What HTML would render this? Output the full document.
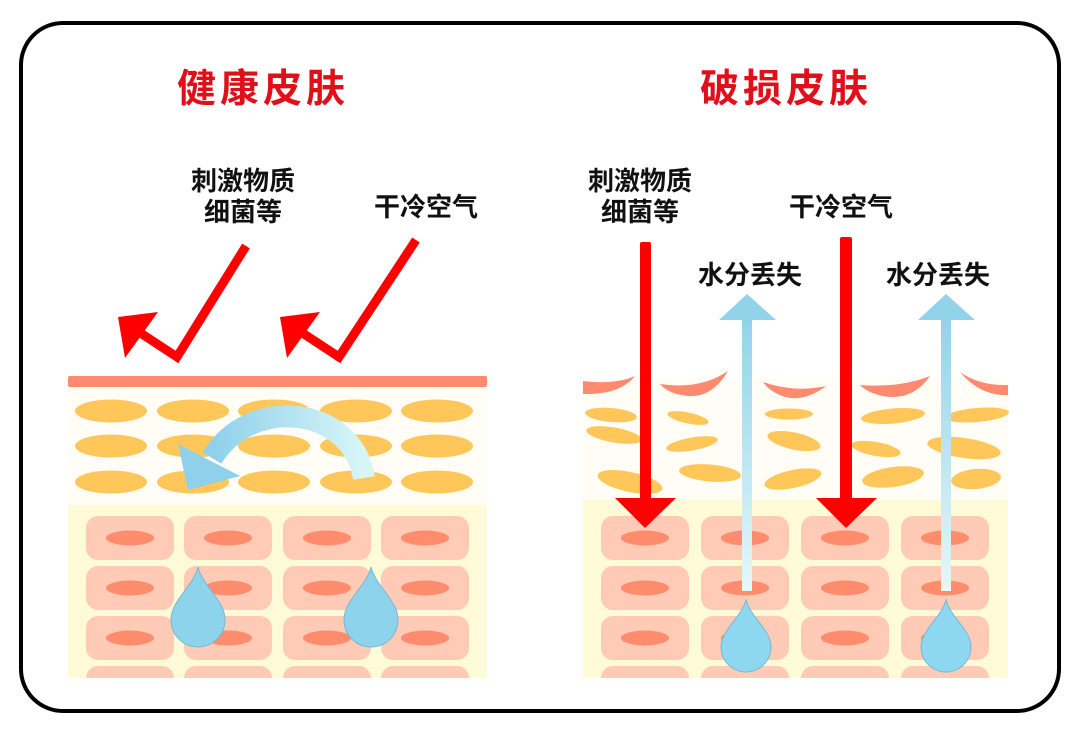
<!DOCTYPE html>
<html><head><meta charset="utf-8"><style>
html,body{margin:0;padding:0;background:#fff;}
svg{display:block;}
text{font-family:"Liberation Sans","Noto Sans CJK SC",sans-serif;font-weight:bold;}
</style></head><body>
<svg width="1080" height="737" viewBox="0 0 1080 737" xmlns="http://www.w3.org/2000/svg">
<defs>
<linearGradient id="ca" x1="0" y1="0" x2="1" y2="0">
<stop offset="0" stop-color="#8fd0ea"/><stop offset="1" stop-color="#d8f6f8"/></linearGradient>
<linearGradient id="bs" x1="0" y1="0" x2="0" y2="1">
<stop offset="0" stop-color="#92d3ea"/><stop offset="1" stop-color="#e6f8f8"/></linearGradient>
<g id="cells">
<rect x="0" y="0" width="88" height="44" rx="12" fill="#ffcbb6"/>
<ellipse cx="44" cy="22" rx="24" ry="7.5" fill="#ff8c6c"/>
</g>
</defs>
<rect width="1080" height="737" fill="#fff"/>
<rect x="21" y="23" width="1038" height="688" rx="42" fill="#fff" stroke="#000" stroke-width="4"/>

<text x="263" y="102" font-size="39" fill="#e0101a" text-anchor="middle" letter-spacing="4">健康皮肤</text>
<text x="786" y="102" font-size="39" fill="#e0101a" text-anchor="middle" letter-spacing="4">破损皮肤</text>

<g font-size="26" fill="#111" text-anchor="middle">
<text x="243" y="190">刺激物质</text>
<text x="243" y="221">细菌等</text>
<text x="426" y="216">干冷空气</text>
<text x="640" y="190">刺激物质</text>
<text x="640" y="221">细菌等</text>
<text x="841" y="216">干冷空气</text>
<text x="750" y="284">水分丢失</text>
<text x="938" y="284">水分丢失</text>
</g>

<!-- LEFT PANEL -->
<rect x="68" y="387" width="419" height="118" fill="#fffdf6"/>
<rect x="68" y="505" width="419" height="173" fill="#fffbd8"/>
<rect x="68" y="376" width="419" height="11" rx="2" fill="#ff8a70"/>
<g fill="#ffc75a">
<ellipse cx="111" cy="411" rx="36" ry="11.5"/><ellipse cx="193" cy="411" rx="36" ry="11.5"/><ellipse cx="274" cy="411" rx="36" ry="11.5"/><ellipse cx="356" cy="411" rx="36" ry="11.5"/><ellipse cx="437" cy="411" rx="36" ry="11.5"/>
<ellipse cx="111" cy="446" rx="36" ry="11.5"/><ellipse cx="193" cy="446" rx="36" ry="11.5"/><ellipse cx="274" cy="446" rx="36" ry="11.5"/><ellipse cx="356" cy="446" rx="36" ry="11.5"/><ellipse cx="437" cy="446" rx="36" ry="11.5"/>
<ellipse cx="111" cy="482" rx="36" ry="11.5"/><ellipse cx="193" cy="482" rx="36" ry="11.5"/><ellipse cx="274" cy="482" rx="36" ry="11.5"/><ellipse cx="356" cy="482" rx="36" ry="11.5"/><ellipse cx="437" cy="482" rx="36" ry="11.5"/>
</g>
<svg x="68" y="505" width="419" height="173" overflow="hidden">
<g>
<use href="#cells" x="18" y="11"/><use href="#cells" x="116" y="11"/><use href="#cells" x="215" y="11"/><use href="#cells" x="313" y="11"/>
<use href="#cells" x="18" y="61"/><use href="#cells" x="116" y="61"/><use href="#cells" x="215" y="61"/><use href="#cells" x="313" y="61"/>
<use href="#cells" x="18" y="111"/><use href="#cells" x="116" y="111"/><use href="#cells" x="215" y="111"/><use href="#cells" x="313" y="111"/>
<use href="#cells" x="18" y="161"/><use href="#cells" x="116" y="161"/><use href="#cells" x="215" y="161"/><use href="#cells" x="313" y="161"/>
</g>
</svg>
<!-- curved arrow -->
<path d="M 364 478 C 352 405 250 395 212 458" fill="none" stroke="url(#ca)" stroke-width="22"/>
<polygon points="178,444 188,490 240,476" fill="#8fd0ea"/>
<!-- drops left -->
<path d="M198 567 C203 587 225 600 225 620 A27 27 0 0 1 171 620 C171 600 193 587 198 567 Z" fill="#8dd3ec" stroke="#7ab8cc" stroke-width="1"/>
<path d="M371 567 C376 587 398 600 398 620 A27 27 0 0 1 344 620 C344 600 366 587 371 567 Z" fill="#8dd3ec" stroke="#7ab8cc" stroke-width="1"/>
<!-- red check arrows -->
<g stroke="#f00" stroke-width="9" fill="none" stroke-linejoin="miter">
<polyline points="246,246 177,357 142,334"/>
<polyline points="416,240 339,357 304,334"/>
</g>
<polygon points="118,317 158,312 125,358" fill="#f00"/>
<polygon points="280,317 320,312 287,358" fill="#f00"/>

<!-- RIGHT PANEL -->
<rect x="583" y="378" width="425" height="122" fill="#fffdf6"/>
<rect x="583" y="500" width="425" height="178" fill="#fffbd8"/>
<g fill="#ff8a70">
<path d="M583 381 Q615 385 635 376 Q620 395 583 394 Z"/>
<path d="M660 384 Q700 390 728 371 Q712 398 688 396 Q668 394 660 384 Z"/>
<path d="M763 382 Q795 393 826 386 Q805 402 785 397 Q770 392 763 382 Z"/>
<path d="M860 385 Q900 388 930 376 Q915 398 890 397 Q870 395 860 385 Z"/>
<path d="M960 372 Q980 386 1008 385 L1008 395 Q980 396 960 372 Z"/>
</g>
<g fill="#ffc75a">
<ellipse cx="611" cy="415" rx="26" ry="7" transform="rotate(5 611 415)"/>
<ellipse cx="614" cy="435" rx="28" ry="7.5" transform="rotate(10 614 435)"/>
<ellipse cx="630" cy="482" rx="33" ry="10" transform="rotate(12 630 482)"/>
<ellipse cx="688" cy="418" rx="21" ry="5.5" transform="rotate(12 688 418)"/>
<ellipse cx="692" cy="444" rx="26" ry="6.5" transform="rotate(-10 692 444)"/>
<ellipse cx="710" cy="473" rx="31" ry="8.5" transform="rotate(5 710 473)"/>
<ellipse cx="789" cy="414" rx="24" ry="5.5"/>
<ellipse cx="794" cy="441" rx="27" ry="8.5" transform="rotate(12 794 441)"/>
<ellipse cx="793" cy="479" rx="29" ry="9" transform="rotate(-12 793 479)"/>
<ellipse cx="893" cy="416" rx="32" ry="7.5" transform="rotate(-5 893 416)"/>
<ellipse cx="876" cy="449" rx="25" ry="7" transform="rotate(10 876 449)"/>
<ellipse cx="893" cy="477" rx="31" ry="10" transform="rotate(-8 893 477)"/>
<ellipse cx="977" cy="415" rx="32" ry="7" transform="rotate(-5 977 415)"/>
<ellipse cx="964" cy="448" rx="37" ry="10" transform="rotate(8 964 448)"/>
<ellipse cx="976" cy="479" rx="25" ry="10" transform="rotate(-5 976 479)"/>
</g>
<svg x="583" y="500" width="425" height="178" overflow="hidden">
<g>
<use href="#cells" x="18" y="16"/><use href="#cells" x="118" y="16"/><use href="#cells" x="218" y="16"/><use href="#cells" x="318" y="16"/>
<use href="#cells" x="18" y="66"/><use href="#cells" x="118" y="66"/><use href="#cells" x="218" y="66"/><use href="#cells" x="318" y="66"/>
<use href="#cells" x="18" y="116"/><use href="#cells" x="118" y="116"/><use href="#cells" x="218" y="116"/><use href="#cells" x="318" y="116"/>
<use href="#cells" x="18" y="166"/><use href="#cells" x="118" y="166"/><use href="#cells" x="218" y="166"/><use href="#cells" x="318" y="166"/>
</g>
</svg>
<!-- red down arrows -->
<rect x="640" y="242" width="11" height="260" rx="2" fill="#f00"/>
<polygon points="615,498 676,498 645,528" fill="#f00"/>
<rect x="840" y="237" width="12" height="265" rx="2" fill="#f00"/>
<polygon points="816,498 877,498 846,528" fill="#f00"/>
<!-- blue up arrows -->
<rect x="742" y="318" width="10" height="273" fill="url(#bs)"/>
<polygon points="747,294 776,320 719,320" fill="#92d3ea"/>
<rect x="941" y="318" width="10" height="273" fill="url(#bs)"/>
<polygon points="946,294 975,320 918,320" fill="#92d3ea"/>
<!-- drops right -->
<path d="M746 600 C751 618 771 630 771 647 A25 25 0 0 1 721 647 C721 630 741 618 746 600 Z" fill="#8dd8f0" stroke="#7ab8cc" stroke-width="1"/>
<path d="M946 600 C951 618 971 630 971 647 A25 25 0 0 1 921 647 C921 630 941 618 946 600 Z" fill="#8dd8f0" stroke="#7ab8cc" stroke-width="1"/>
</svg>
</body></html>
